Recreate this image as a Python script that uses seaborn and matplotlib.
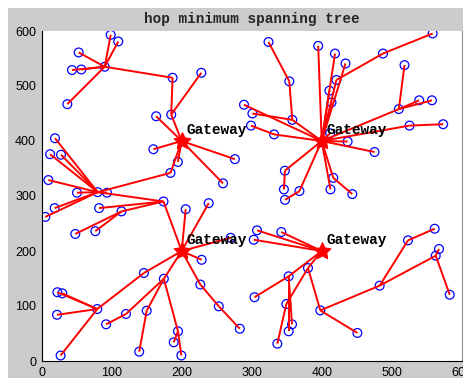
import matplotlib
matplotlib.use("Agg")
import matplotlib.pyplot as plt
from matplotlib.patches import Rectangle
import seaborn as sns
import pandas as pd

# Sensor node coordinates (first four entries are the gateways)
node_x = [200, 400, 200, 400,
          90, 98.6, 109.4, 52.8, 43.3, 56.6, 36.6, 187, 185, 228, 163.5, 159.5, 194.5, 276, 259, 184,
          80, 19, 12, 27.6, 9.5, 50.4, 93.3, 18.5, 5.2, 174, 82, 114, 48, 76.6,
          205.7, 238.6, 270, 228.5, 146, 174.5, 226.6, 253, 283, 150, 139.3, 194.7, 188.6, 199.5,
          120.4, 92, 79.4, 22.4, 29.4, 21.9, 27,
          324, 353.7, 358, 289, 301, 299, 332, 395, 419, 434, 421, 487.5, 558.5, 411, 414,
          518.3, 510.2, 539.3, 557.5, 525.5, 573.5, 475.5, 437, 412, 347.4, 346, 347.6, 368.2,
          412.5, 443.7, 416.5,
          307.6, 302.9, 342.3, 380.4, 352.8, 304, 349.5, 357.6, 352.8, 336.6, 398, 451,
          482.8, 523.3, 561.4, 567.6, 562.9, 582.9]
node_y = [400, 400, 200, 200,
          535, 593, 581, 561, 529, 530, 467, 515, 448, 524, 445, 385, 362, 367, 323, 342,
          307, 405, 376, 375, 329, 306, 306, 278, 262, 290, 278, 272, 231, 236,
          276, 287, 224, 184, 160, 149.5, 139, 99.4, 58.7, 91.5, 17, 54, 34, 10,
          85.5, 66.7, 94.5, 125, 123, 84, 10,
          580, 508.5, 438.5, 466, 450, 428, 412, 573, 559, 541, 511, 559, 595.5, 491.5, 470,
          538, 458, 474, 474, 428, 430.5, 380, 399, 414, 346, 312, 293, 309,
          312, 303.5, 333,
          237.6, 220.5, 234.5, 169, 154, 116, 103.6, 66.7, 54, 31.5, 92, 51,
          137, 219.4, 240.5, 203.6, 191.5, 120.5]

gateway_idx = [0, 1, 2, 3]
gateway_label = "Gateway"

# Tree links as (child, parent) node indices
edge_src = [4, 4, 4, 4, 4, 4, 4, 11, 13, 12, 14, 15, 16, 17, 18, 19,
            21, 22, 23, 24, 25, 26, 27, 28, 20, 20, 30, 31, 32, 33, 29,
            34, 35, 36, 37, 50, 38, 39, 40, 40, 41, 44, 43, 39, 45, 46, 49, 48, 51, 52, 53, 54,
            55, 56, 57, 59, 58, 60, 61, 62, 63, 64, 65, 66, 67, 68, 69, 70, 72, 73, 71,
            75, 74, 76, 77, 78, 79, 80, 81, 82, 83, 84, 85,
            86, 87, 88, 91, 90, 94, 93, 92, 95, 89, 96, 97, 96, 98, 101, 103, 99, 100]
edge_dst = [5, 6, 7, 8, 9, 10, 11, 12, 12, 0, 0, 0, 0, 0, 0, 0,
            20, 20, 20, 20, 20, 20, 20, 20, 19, 29, 29, 29, 31, 31, 2,
            2, 2, 2, 2, 38, 2, 2, 2, 41, 42, 43, 39, 45, 47, 45, 48, 39, 50, 50, 50, 50,
            56, 57, 1, 57, 1, 61, 1, 1, 1, 1, 1, 65, 66, 1, 1, 71, 71, 71, 1,
            74, 1, 1, 1, 1, 1, 79, 82, 1, 1, 85, 1,
            3, 3, 3, 90, 3, 90, 90, 89, 92, 3, 89, 96, 98, 102, 102, 102, 98, 99]

title_text = "hop minimum spanning tree"
x_ticks = [0, 100, 200, 300, 400, 500, 600]
y_ticks = [0, 100, 200, 300, 400, 500, 600]

W, H = 464, 378
sns.set_style("white")
plt.rcParams["font.family"] = ["Liberation Sans", "DejaVu Sans"]

fig = plt.figure(figsize=(W / 100, H / 100), dpi=100, facecolor="white")
fig.patches.append(Rectangle((8 / W, 0), (463 - 8) / W, (H - 8) / H,
                             transform=fig.transFigure, facecolor="#cccccc",
                             edgecolor="none", zorder=-10))
ax = fig.add_axes([41.7 / W, 17 / H, 420 / W, 330 / H])
ax.set_facecolor("white")

nodes = pd.DataFrame({"x": node_x, "y": node_y})
sensors = nodes.drop(index=gateway_idx)
gateways = nodes.loc[gateway_idx]

sns.scatterplot(data=sensors, x="x", y="y", ax=ax, marker="o", s=40,
                facecolor="none", edgecolor="blue", linewidth=0.9, zorder=2)

for a, b in zip(edge_src, edge_dst):
    ax.plot([node_x[a], node_x[b]], [node_y[a], node_y[b]],
            color="red", lw=1.4, solid_capstyle="butt", zorder=3)

sns.scatterplot(data=gateways, x="x", y="y", ax=ax, marker=(5, 1, 0), s=160,
                color="red", edgecolor="red", linewidth=0.8, zorder=4)

for gx, gy in zip(gateways["x"], gateways["y"]):
    ax.text(gx + 7, gy + 20, gateway_label, ha="left", va="center",
            fontsize=10.4, fontweight="bold", family="Liberation Mono",
            color="black", zorder=5)

ax.set_xlim(0, 600)
ax.set_ylim(0, 600)
ax.set_xticks(x_ticks)
ax.set_yticks(y_ticks)
ax.set_xlabel("")
ax.set_ylabel("")
ax.tick_params(direction="in", length=3.5, width=0.8, labelsize=9,
               colors="black", pad=4)
for side in ("left", "bottom"):
    ax.spines[side].set_color("black")
    ax.spines[side].set_linewidth(0.8)
ax.spines["right"].set_color("#888888")
ax.spines["right"].set_linewidth(0.8)
ax.spines["top"].set_visible(False)

ax.set_title(title_text, fontsize=10.4, fontweight="bold",
             family="Liberation Mono", pad=6)

fig.savefig("out.png", dpi=100, facecolor=fig.get_facecolor())
